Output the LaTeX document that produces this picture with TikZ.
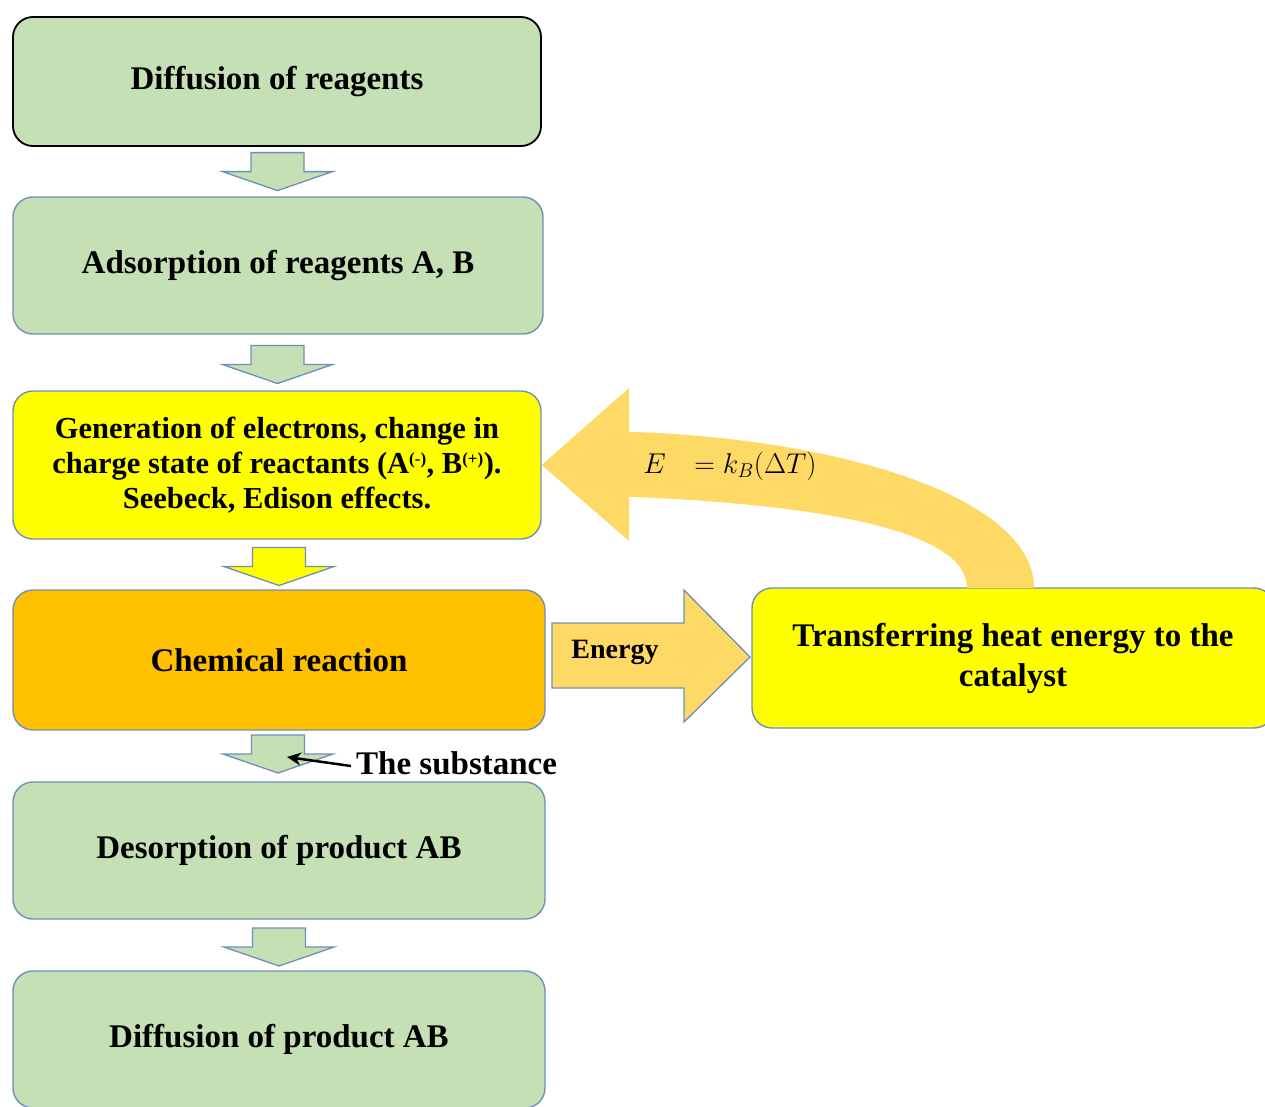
\documentclass[tikz,border=0pt]{standalone}
\usepackage{fontspec}
\setmainfont{Liberation Serif}
\usetikzlibrary{calc,arrows.meta}
\definecolor{boxgreen}{HTML}{C5E0B4}
\definecolor{boxyellow}{HTML}{FFFF00}
\definecolor{boxorange}{HTML}{FFC000}
\definecolor{arroworange}{HTML}{FFD966}
\definecolor{edgeblue}{HTML}{6F8FB9}
\begin{document}
\begin{tikzpicture}[x=1pt,y=-1pt,
  box/.style={draw=edgeblue, line width=1.4pt, rounded corners=20pt, align=center,
    font=\fontsize{33}{40}\selectfont\bfseries, inner sep=0pt},
  blockdown/.pic={\path[pic actions] (-26.5,-19) -- (26.5,-19) -- (26.5,0) -- (55,0) -- (0,19) -- (-55,0) -- (-26.5,0) -- cycle;},
  downarrow/.style={draw=edgeblue, line width=1.3pt, fill=#1}
]
\useasboundingbox (0,0) rectangle (1265,1106);
\clip (0,0) rectangle (1265,1106);

\node[box, draw=black, line width=1.8pt, fill=boxgreen, minimum width=528pt, minimum height=129pt] (b1) at (277,81.5) {Diffusion of reagents};
\node[box, fill=boxgreen, minimum width=530pt, minimum height=137pt] (b2) at (278,265.5) {Adsorption of reagents A, B};
\node[box, fill=boxyellow, minimum width=528pt, minimum height=148pt,
  font=\fontsize{30.5}{35}\selectfont\bfseries] (b3) at (277,465)
  {Generation of electrons, change in\\charge state of reactants (A\textsuperscript{\fontsize{17}{17}\selectfont(-)}, B\textsuperscript{\fontsize{17}{17}\selectfont(+)}).\\Seebeck, Edison effects.};
\node[box, fill=boxorange, minimum width=532pt, minimum height=140pt] (b4) at (279,660) {Chemical reaction};
\node[box, fill=boxgreen, minimum width=532pt, minimum height=137pt] (b5) at (279,850.5) {Desorption of product AB};
\node[box, fill=boxgreen, minimum width=532pt, minimum height=137pt] (b6) at (279,1039.5) {Diffusion of product AB};
\node[box, fill=boxyellow, minimum width=522pt, minimum height=140pt] (b7) at (1013,658) {Transferring heat energy to the\\catalyst};

% down block arrows
\pic[downarrow=boxgreen] at ($(b1.south)!0.5!(b2.north)$) {blockdown};
\pic[downarrow=boxgreen] at ($(b2.south)!0.5!(b3.north)+(0,2)$) {blockdown};
\pic[downarrow=boxyellow] at ($(b3.south)!0.5!(b4.north)+(1,2)$) {blockdown};
\pic[downarrow=boxgreen] at ($(b4.south)!0.5!(b5.north)+(-1,-2)$) {blockdown};
\pic[downarrow=boxgreen] at ($(b5.south)!0.5!(b6.north)+(0,2)$) {blockdown};

% energy arrow
\filldraw[draw=edgeblue, fill=arroworange, line width=1.3pt]
  (552,623) -- (684,623) -- (684,590) -- (750,657) -- (684,722) -- (684,688) -- (552,688) -- cycle;
\node[font=\fontsize{28}{32}\selectfont\bfseries] (en) at (615,652) {Energy};

% curved feedback arrow
\fill[arroworange] (1034,588) .. controls (1034,500) and (850,440) .. (635,432)
  -- (629,432) -- (629,388) -- (b3.east) -- (629,541) -- (629,497) -- (635,497)
  .. controls (820,505) and (967,530) .. (967,588) -- cycle;
\node[font=\fontsize{26}{30}\selectfont, scale=1.15] (fm) at (730,466) {$E\;\;\,=k_{B}(\Delta T)$};

% the substance
\node[anchor=west, inner sep=0pt, font=\fontsize{33}{40}\selectfont\bfseries] (sub) at (356,763) {The substance};
\coordinate (subtip) at (287,757);
\draw[line width=2.5pt, -{Stealth[length=14pt,width=13pt]}] ([xshift=-5pt,yshift=-3pt]sub.west) -- (subtip);
\end{tikzpicture}
\end{document}
